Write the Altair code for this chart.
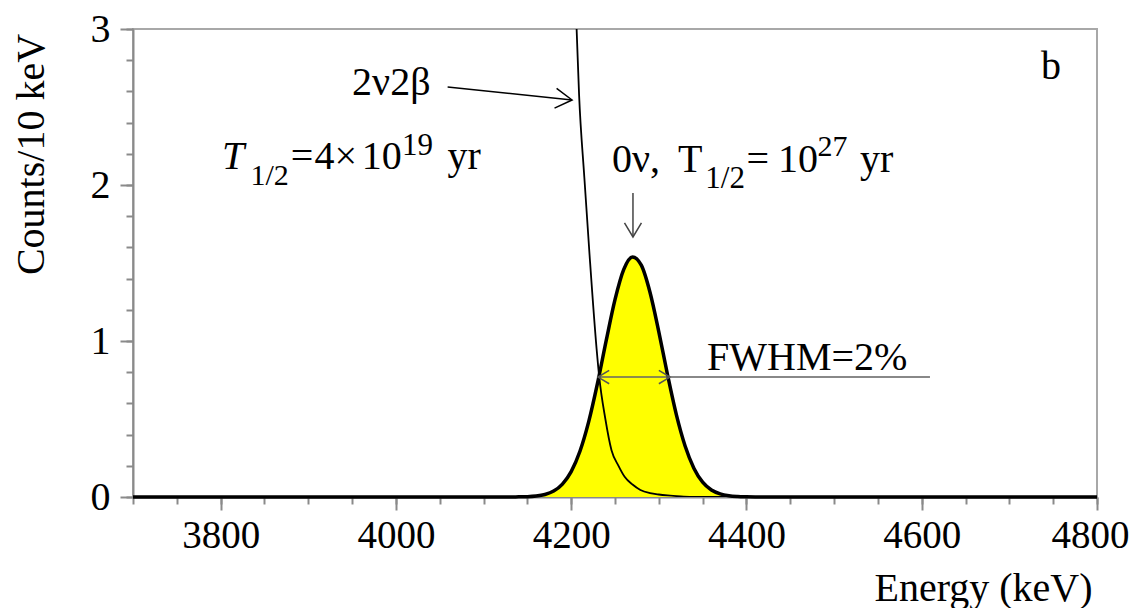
import altair as alt
import pandas as pd

# ---- data ----
# 0v double-beta peak (counts / 10 keV)
peak_energy = [3700, 4130, 4140, 4150, 4160, 4170, 4180, 4190, 4200, 4210, 4220,
               4230, 4240, 4250, 4260, 4270, 4280, 4290, 4300, 4310, 4320, 4330,
               4340, 4350, 4360, 4370, 4380, 4390, 4400, 4410, 4800]
peak_counts = [0, 0, 0.001, 0.002, 0.006, 0.016, 0.038, 0.083, 0.163, 0.293, 0.483,
               0.728, 1.004, 1.265, 1.459, 1.539, 1.486, 1.311, 1.059, 0.782, 0.528, 0.327,
               0.185, 0.095, 0.045, 0.020, 0.008, 0.003, 0.001, 0, 0]

# 2v2b tail
bb_energy = [4195, 4200, 4203, 4206, 4209, 4215, 4221, 4229, 4232, 4239, 4246,
             4254, 4261, 4270, 4279, 4290, 4300, 4310, 4325, 4340, 4800]
bb_counts = [4.3, 3.9, 3.4, 3.03, 2.58, 2.05, 1.55, 0.95, 0.77, 0.50, 0.30,
             0.20, 0.13, 0.08, 0.045, 0.025, 0.016, 0.010, 0.004, 0.0, 0.0]

x_major = [3800, 4000, 4200, 4400, 4600, 4800]
x_minor = list(range(3700, 4801, 50))
y_major = [0, 1, 2, 3]
y_minor = [0, 0.2, 0.4, 0.6, 0.8, 1, 1.2, 1.4, 1.6, 1.8, 2, 2.2, 2.4, 2.6, 2.8, 3]

peak = pd.DataFrame({"E": peak_energy, "C": peak_counts})
bb = pd.DataFrame({"E": bb_energy, "C": bb_counts})

FONT = "Liberation Serif"
xscale = alt.Scale(domain=[3700, 4800], nice=False, zero=False)
yscale = alt.Scale(domain=[0, 3], nice=False)

x_major_axis = alt.Axis(
    orient="bottom", values=x_major, format="d", tickSize=13,
    labelPadding=6, labelOverlap=False, labelFlush=True, labelFlushOffset=32,
    labelFontSize=39,
    title="Energy (keV)", titleX=850, titleY=103, titleAlign="center",
    titleBaseline="alphabetic", grid=False,
)
y_major_axis = alt.Axis(
    orient="left", values=y_major, format="d", tickSize=13,
    labelPadding=10, labelOverlap=False, labelFlush=False,
    title="Counts/10 keV", titleX=-102, titleY=125, titleAngle=-90,
    titleAlign="center", titleBaseline="middle", grid=False,
)
x_minor_axis = alt.Axis(orient="bottom", values=x_minor, tickSize=7, labels=False,
                        domain=False, title=None, grid=False)
y_minor_axis = alt.Axis(orient="left", values=y_minor, tickSize=7, labels=False,
                        domain=False, title=None, grid=False)

area = alt.Chart(peak).mark_area(color="#ffff00", interpolate="monotone").encode(
    x=alt.X("E:Q", scale=xscale, axis=x_major_axis),
    y=alt.Y("C:Q", scale=yscale, axis=y_major_axis),
)
bb_line = alt.Chart(bb).mark_line(color="black", strokeWidth=1.8, interpolate="monotone", clip=True).encode(
    x=alt.X("E:Q", scale=xscale, axis=x_minor_axis),
    y=alt.Y("C:Q", scale=yscale, axis=y_minor_axis),
)
peak_line = alt.Chart(peak).mark_line(color="black", strokeWidth=3.5, interpolate="monotone").encode(
    x=alt.X("E:Q", axis=None), y=alt.Y("C:Q", axis=None)
)

def txt(s, x, y, size=40, style="normal"):
    return alt.Chart().mark_text(
        text=s, font=FONT, fontSize=size, fontStyle=style, color="black",
        align="left", baseline="alphabetic"
    ).encode(x=alt.XDatum(x, axis=None), y=alt.YDatum(y, axis=None))

def seg(x1, y1, x2, y2, color="black", w=1.5):
    return alt.Chart().mark_rule(color=color, strokeWidth=w).encode(
        x=alt.XDatum(x1, axis=None), y=alt.YDatum(y1, axis=None),
        x2=alt.X2Datum(x2), y2=alt.Y2Datum(y2)
    )

HEAD = "M -1 -0.6 L 0 0 L -1 0.6"

def head(x, y, angle, size, color="black", w=1.5):
    return alt.Chart().mark_point(
        shape=HEAD, filled=False, color=color, strokeWidth=w, opacity=1,
        size=size, angle=angle
    ).encode(x=alt.XDatum(x, axis=None), y=alt.YDatum(y, axis=None))

annots = [
    txt("2ν2β", 3950, 2.58),
    seg(4059, 2.628, 4201, 2.545),
    head(4201, 2.545, 6, 1100),
    txt("T", 3801.6, 2.103, style="italic"),
    txt("1/2", 3834, 2.0, size=30),
    txt("=", 3880, 2.103),
    txt("4×", 3907, 2.103),
    txt("10", 3961, 2.103),
    txt("19", 4007, 2.195, size=31),
    txt("yr", 4059, 2.103),
    txt("0ν,", 4246.6, 2.083),
    txt("T", 4321.9, 2.083),
    txt("1/2", 4353, 1.981, size=31),
    txt("=", 4400, 2.083),
    txt("10", 4436, 2.083),
    txt("27", 4481, 2.186, size=30),
    txt("yr", 4529.6, 2.083),
    seg(4270.5, 1.949, 4270.5, 1.667, color="#444", w=1.5),
    head(4270.5, 1.667, 90, 800, color="#444"),
    txt("b", 4736, 2.679),
    txt("FWHM=2%", 4355, 0.814),
    seg(4312.8, 0.769, 4609.4, 0.769, color="#888", w=2),
    seg(4230.6, 0.769, 4312.8, 0.769, color="#666", w=1.5),
    head(4230.6, 0.769, 180, 500, color="#555"),
    head(4312.8, 0.769, 0, 500, color="#555"),
]

chart = alt.layer(area, bb_line, peak_line, *annots).resolve_axis(
    x="independent", y="independent"
).properties(
    width=964, height=468,
    autosize=alt.AutoSizeParams(type="none"),
    padding={"left": 125, "top": 21, "right": 32, "bottom": 111},
).configure_view(
    stroke="#a8a8a8", strokeWidth=2
).configure_axis(
    labelFont=FONT, labelFontSize=40, labelColor="black",
    titleFont=FONT, titleFontSize=40, titleFontWeight="normal", titleColor="black",
    domainColor="#8a8a8a", domainWidth=2, tickColor="#8a8a8a", tickWidth=2,
)

chart.save("out.html", embed_options={"renderer": "svg", "actions": False})
